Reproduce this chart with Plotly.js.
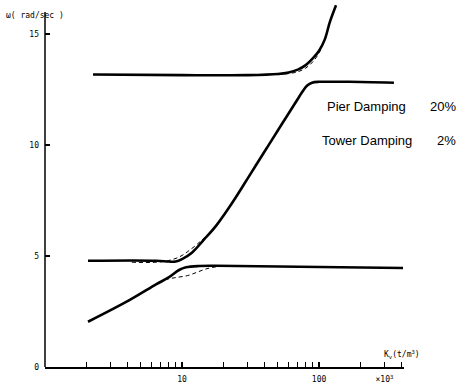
<!DOCTYPE html>
<html>
<head>
<meta charset="utf-8">
<script src="https://cdn.plot.ly/plotly-3.0.1.min.js"></script>
<style>html,body{margin:0;padding:0;background:#fff}#chart{width:464px;height:392px}</style>
</head>
<body>
<div id="chart"></div>
<script>
// Upper branch (solid)
const kvTop = [2.24, 10, 30, 50, 60, 70, 80, 90, 100, 110, 120, 133];
const wTop  = [13.18, 13.15, 13.15, 13.2, 13.27, 13.4, 13.6, 13.9, 14.25, 14.75, 15.55, 16.3];
// Middle branch (solid)
const kvMid = [2.06, 6.5, 8.0, 9.0, 10.0, 11.8, 14.5, 17.7, 23.2, 30.8, 41, 53.7, 67.9, 76, 82, 88.9, 100, 120, 165, 352];
const wMid  = [4.79, 4.79, 4.75, 4.75, 4.86, 5.15, 5.75, 6.36, 7.39, 8.59, 9.81, 10.96, 11.95, 12.42, 12.68, 12.81, 12.85, 12.85, 12.85, 12.81];
// Lower branch (solid)
const kvBot = [2.06, 4.1, 6.46, 8.04, 9.51, 10.7, 13.3, 17.7, 410];
const wBot  = [2.04, 3.0, 3.72, 4.05, 4.37, 4.49, 4.55, 4.56, 4.46];
// Dashed approximations near the transitions
const kvTopDash = [50, 60, 70, 80, 90, 100, 108];
const wTopDash  = [13.17, 13.22, 13.3, 13.47, 13.75, 14.15, 14.6];
const kvMidDash = [4.3, 6.5, 8, 9.5, 11, 13, 15, 18];
const wMidDash  = [4.72, 4.72, 4.8, 4.95, 5.2, 5.55, 5.9, 6.35];
const kvBotDash = [7.5, 9, 11, 13, 15, 18, 22];
const wBotDash  = [3.94, 4.03, 4.12, 4.28, 4.42, 4.52, 4.56];
// Ticks
const xTickVals = [2,3,4,5,6,7,8,9,10,20,30,40,50,60,70,80,90,100,200,300,400];
const xTickText = ['','','','','','','','','10','','','','','','','','','100','','×10<sup>3</sup>',''];
const yTickVals = [0, 5, 10, 15];
const yTickText = ['0', '5', '10', '15'];

const solid = {color: '#000', width: 2.6, shape: 'spline', smoothing: 1};
const dashed = {color: '#000', width: 1, dash: '4px,3px', shape: 'spline', smoothing: 1};

const traces = [
  {x: kvTop, y: wTop, mode: 'lines', line: solid},
  {x: kvMid, y: wMid, mode: 'lines', line: solid},
  {x: kvBot, y: wBot, mode: 'lines', line: solid},
  {x: kvTopDash, y: wTopDash, mode: 'lines', line: dashed},
  {x: kvMidDash, y: wMidDash, mode: 'lines', line: dashed},
  {x: kvBotDash, y: wBotDash, mode: 'lines', line: dashed}
];

const tickFont = {family: 'DejaVu Sans Mono, monospace', size: 8, color: '#000'};
const handFont = {family: 'Liberation Sans, sans-serif', size: 13, color: '#000'};

const layout = {
  width: 464, height: 392,
  margin: {l: 45, r: 60, t: 3, b: 25},
  paper_bgcolor: '#fff', plot_bgcolor: '#fff',
  showlegend: false,
  xaxis: {
    type: 'log', range: [0, 2.62],
    showgrid: false, zeroline: false,
    showline: true, linecolor: '#000', linewidth: 1.5,
    ticks: 'inside', ticklen: 5, tickwidth: 1.3, tickcolor: '#000',
    tickmode: 'array', tickvals: xTickVals, ticktext: xTickText,
    tickfont: tickFont, ticklabelstandoff: 4
  },
  yaxis: {
    range: [0, 16.4],
    showgrid: false, zeroline: false, showline: false,
    ticks: 'inside', ticklen: 5, tickwidth: 1.3, tickcolor: '#000',
    tickmode: 'array', tickvals: yTickVals, ticktext: yTickText,
    tickfont: tickFont, ticklabelstandoff: 5
  },
  shapes: [
    {type: 'line', xref: 'paper', yref: 'y', x0: 0, x1: 0, y0: 0, y1: 16.0,
     line: {color: '#000', width: 1.5}}
  ],
  annotations: [
    {xref: 'paper', yref: 'paper', x: -0.115, y: 0.966, xanchor: 'left', yanchor: 'middle',
     text: 'ω( rad/sec )', showarrow: false, font: tickFont},
    {xref: 'paper', yref: 'paper', x: 0.94, y: 0.035, xanchor: 'left', yanchor: 'middle',
     text: 'K<sub>v</sub>(t/m<sup>3</sup>)', showarrow: false, font: tickFont},
    {xref: 'paper', yref: 'paper', x: (325-45)/359, y: (367-106)/364, xanchor: 'left', yanchor: 'middle',
     text: 'Pier Damping', showarrow: false, font: handFont},
    {xref: 'paper', yref: 'paper', x: (428-45)/359, y: (367-106)/364, xanchor: 'left', yanchor: 'middle',
     text: '20%', showarrow: false, font: handFont},
    {xref: 'paper', yref: 'paper', x: (320-45)/359, y: (367-140)/364, xanchor: 'left', yanchor: 'middle',
     text: 'Tower Damping', showarrow: false, font: handFont},
    {xref: 'paper', yref: 'paper', x: (435-45)/359, y: (367-140)/364, xanchor: 'left', yanchor: 'middle',
     text: '2%', showarrow: false, font: handFont}
  ]
};

Plotly.newPlot('chart', traces, layout, {staticPlot: true, displayModeBar: false});
</script>
</body>
</html>
